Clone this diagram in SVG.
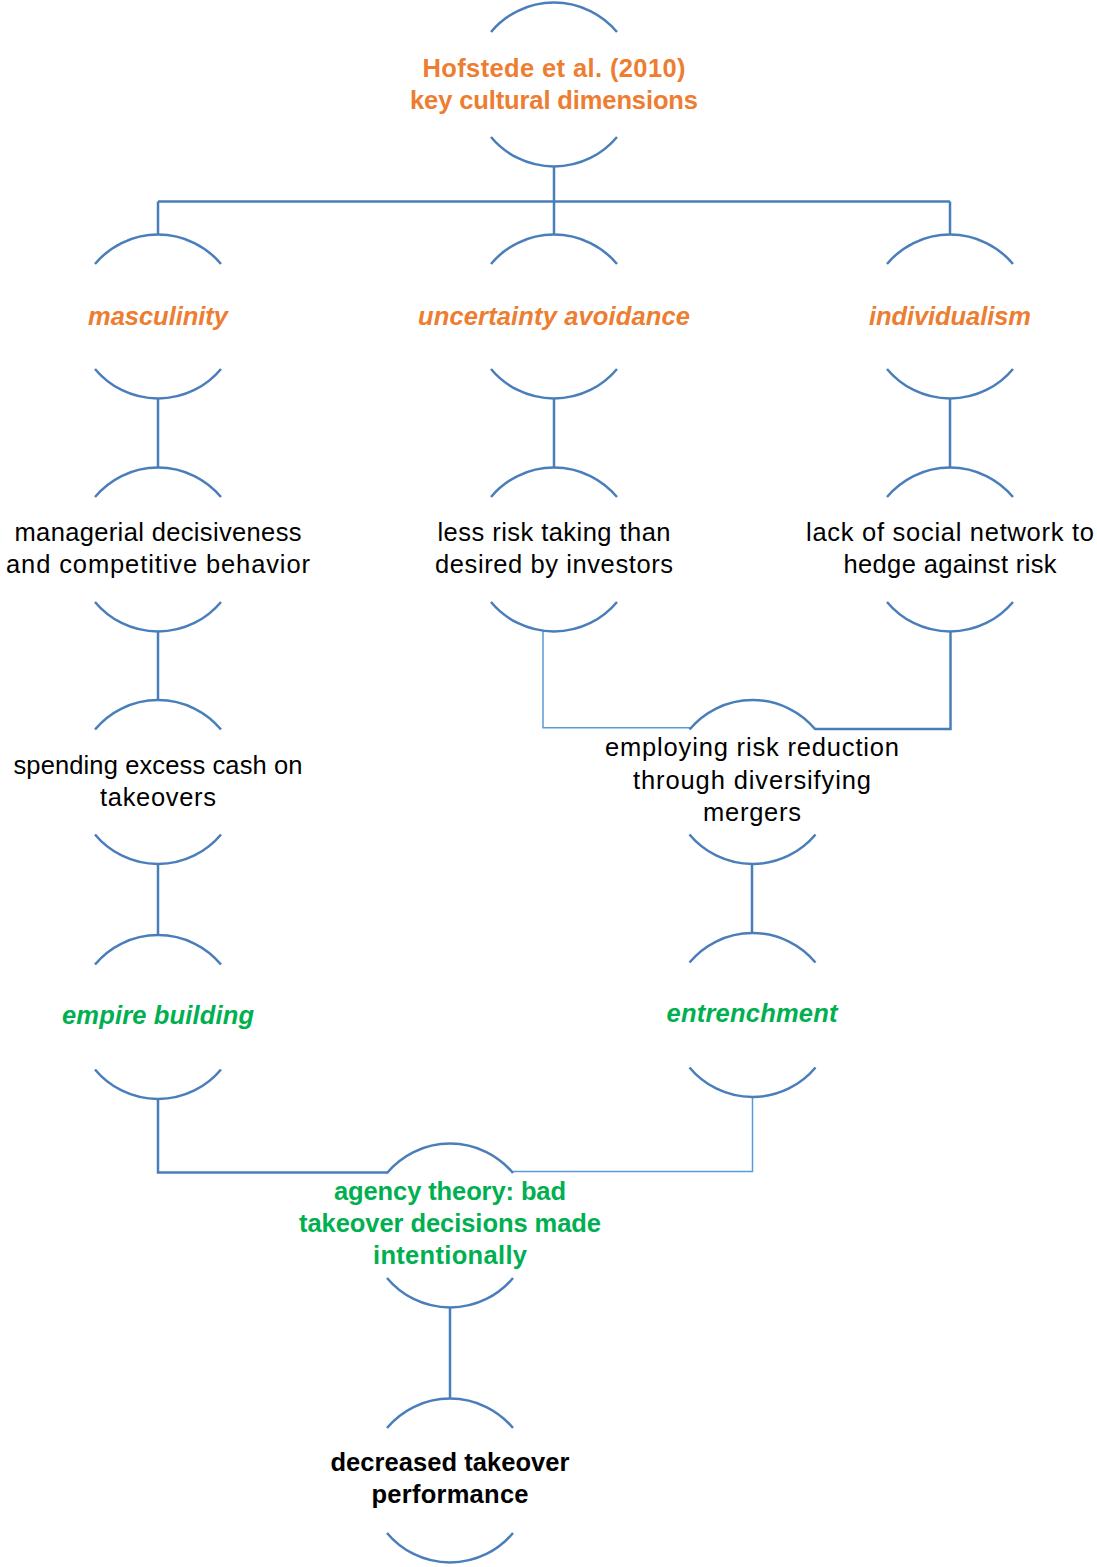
<svg xmlns="http://www.w3.org/2000/svg" xmlns:xlink="http://www.w3.org/1999/xlink" width="1097" height="1567" viewBox="0 0 1097 1567">
<style>
.arc{fill:none;stroke:#4A7EBB;stroke-width:2.5}
.ln{fill:none;stroke:#4A7EBB;stroke-width:2.5}
.ln-thin{fill:none;stroke:#5B9BD5;stroke-width:1.5}
text{font-family:"Liberation Sans",Arial,sans-serif;font-size:25.5px;text-anchor:middle}
.black{fill:#000000}
.orange{fill:#ED7D31;font-weight:bold}
.orange-i{fill:#ED7D31;font-weight:bold;font-style:italic}
.green{fill:#00B050;font-weight:bold}
.green-i{fill:#00B050;font-weight:bold;font-style:italic}
.bold{fill:#000000;font-weight:bold}
</style>
<defs>
<g id="arcs">
<path class="arc" d="M-63,-52.5 A82,82 0 0 1 63,-52.5"/>
<path class="arc" d="M-63,52.5 A82,82 0 0 0 63,52.5"/>
</g>
</defs>
<rect width="1097" height="1567" fill="#ffffff"/>
<g id="connectors">
<path class="ln" d="M554,167 V201.5 M158,201.5 H950 M158,201.5 V234.5 M554,201.5 V234.5 M950,201.5 V234.5"/>
<path class="ln" d="M158,398.5 V467.5 M554,398.5 V467.5 M950,398.5 V467.5"/>
<path class="ln" d="M158,631.5 V700"/>
<path class="ln-thin" d="M543,631 V727.7 H690"/>
<path class="ln" d="M950.5,631.5 V729 H815"/>
<path class="ln" d="M158,864 V935"/>
<path class="ln" d="M752,864 V933"/>
<path class="ln" d="M158,1099 V1172.5 H388"/>
<path class="ln-thin" d="M752.5,1097 V1171.5 H513"/>
<path class="ln" d="M450,1307 V1399"/>
</g>
<g id="node-hofstede"><use xlink:href="#arcs" href="#arcs" x="554" y="84.5"/>
<text class="orange" x="554" y="77" textLength="263">Hofstede et al. (2010)</text>
<text class="orange" x="554" y="109" textLength="288">key cultural dimensions</text></g>
<g id="node-masculinity"><use xlink:href="#arcs" href="#arcs" x="158" y="316.5"/>
<text class="orange-i" x="158" y="325" textLength="140">masculinity</text></g>
<g id="node-uncertainty"><use xlink:href="#arcs" href="#arcs" x="554" y="316.5"/>
<text class="orange-i" x="554" y="325" textLength="272">uncertainty avoidance</text></g>
<g id="node-individualism"><use xlink:href="#arcs" href="#arcs" x="950" y="316.5"/>
<text class="orange-i" x="950" y="325" textLength="162">individualism</text></g>
<g id="node-managerial"><use xlink:href="#arcs" href="#arcs" x="158" y="549.5"/>
<text class="black" x="158" y="541" textLength="287">managerial decisiveness</text>
<text class="black" x="158" y="573" textLength="304">and competitive behavior</text></g>
<g id="node-lessrisk"><use xlink:href="#arcs" href="#arcs" x="554" y="549.5"/>
<text class="black" x="554" y="541" textLength="233">less risk taking than</text>
<text class="black" x="554" y="573" textLength="238">desired by investors</text></g>
<g id="node-lacksocial"><use xlink:href="#arcs" href="#arcs" x="950" y="549.5"/>
<text class="black" x="950" y="541" textLength="288">lack of social network to</text>
<text class="black" x="950" y="573" textLength="213">hedge against risk</text></g>
<g id="node-spending"><use xlink:href="#arcs" href="#arcs" x="158" y="782"/>
<text class="black" x="158" y="774" textLength="289">spending excess cash on</text>
<text class="black" x="158" y="806" textLength="116">takeovers</text></g>
<g id="node-employing"><use xlink:href="#arcs" href="#arcs" x="752.5" y="782"/>
<text class="black" x="752" y="756" textLength="294">employing risk reduction</text>
<text class="black" x="752" y="789" textLength="238">through diversifying</text>
<text class="black" x="752" y="821" textLength="98">mergers</text></g>
<g id="node-empire"><use xlink:href="#arcs" href="#arcs" x="158" y="1017"/>
<text class="green-i" x="158" y="1024" textLength="192">empire building</text></g>
<g id="node-entrenchment"><use xlink:href="#arcs" href="#arcs" x="752.5" y="1015"/>
<text class="green-i" x="752" y="1022" textLength="171">entrenchment</text></g>
<g id="node-agency"><use xlink:href="#arcs" href="#arcs" x="450" y="1225.5"/>
<text class="green" x="450" y="1200" textLength="232">agency theory: bad</text>
<text class="green" x="450" y="1232" textLength="302">takeover decisions made</text>
<text class="green" x="450" y="1264" textLength="154">intentionally</text></g>
<g id="node-decreased"><use xlink:href="#arcs" href="#arcs" x="450" y="1480.5"/>
<text class="bold" x="450" y="1471" textLength="239">decreased takeover</text>
<text class="bold" x="450" y="1503" textLength="157">performance</text></g>
</svg>
